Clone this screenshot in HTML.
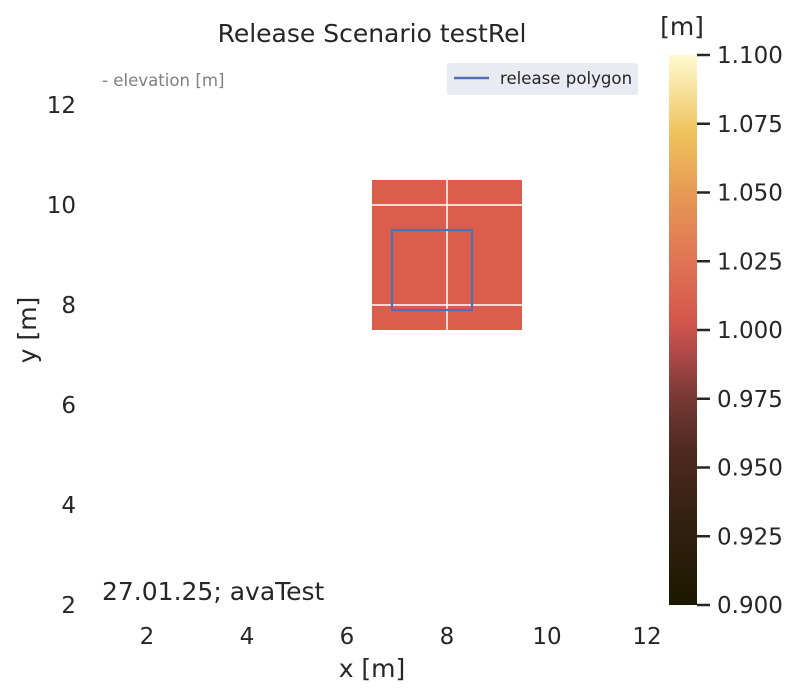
<!DOCTYPE html>
<html><head><meta charset="utf-8"><style>
body{margin:0;background:#fff;}
svg{display:block;font-family:"DejaVu Sans","Liberation Sans",sans-serif;}
</style></head><body>
<svg id="chart" width="797" height="696">
<defs><linearGradient id="cb" x1="0" y1="1" x2="0" y2="0">
<stop offset="0" stop-color="#1c1800"/><stop offset="0.15" stop-color="#33210f"/>
<stop offset="0.28" stop-color="#4f2a1f"/><stop offset="0.38" stop-color="#7a3935"/>
<stop offset="0.46" stop-color="#b14a4a"/><stop offset="0.52" stop-color="#d5574b"/>
<stop offset="0.62" stop-color="#e07255"/><stop offset="0.75" stop-color="#e69a54"/>
<stop offset="0.86" stop-color="#efc35c"/><stop offset="1" stop-color="#fffbd0"/>
</linearGradient></defs>
</svg>
<script>
const xTicks=[2,4,6,8,10,12];
const yTicks=[2,4,6,8,10,12];
const cbTicks=[0.9,0.925,0.95,0.975,1.0,1.025,1.05,1.075,1.1];
const rasterX=[6.5,9.5];
const rasterY=[7.5,10.5];
const gridX=[8];
const gridY=[8,10];
const polyX=[6.9,8.5,8.5,6.9,6.9];
const polyY=[7.9,7.9,9.5,9.5,7.9];
const NS="http://www.w3.org/2000/svg";
const svg=document.getElementById('chart');
const X=v=>97+(v-1)*50, Y=v=>605-(v-2)*50;
const CB=v=>605-(v-0.9)/0.2*550;
function mk(t,a,txt){const e=document.createElementNS(NS,t);for(const k in a)e.setAttribute(k,a[k]);if(txt!==undefined)e.textContent=txt;svg.appendChild(e);return e;}
let e;
e=mk('rect',{x:X(rasterX[0]),y:Y(rasterY[1]),width:X(rasterX[1])-X(rasterX[0]),height:Y(rasterY[0])-Y(rasterY[1]),fill:'#da5e4b'});


gridX.forEach(v=>{e=mk('line',{x1:X(v),x2:X(v),y1:Y(rasterY[1]),y2:Y(rasterY[0]),stroke:'#fff','stroke-width':1.5});

});
gridY.forEach(v=>{e=mk('line',{x1:X(rasterX[0]),x2:X(rasterX[1]),y1:Y(v),y2:Y(v),stroke:'#fff','stroke-width':1.5});

});
e=mk('polyline',{points:polyX.map((v,i)=>X(v)+','+Y(polyY[i])).join(' '),fill:'none',stroke:'#4c72b0','stroke-width':2.2});


xTicks.forEach(v=>{e=mk('text',{x:X(v),y:644,'text-anchor':'middle','font-size':23,fill:'#262626'},v);

});
yTicks.forEach(v=>{e=mk('text',{x:76,y:Y(v)+8,'text-anchor':'end','font-size':23,fill:'#262626'},v);

});
e=mk('text',{x:372,y:677,'text-anchor':'middle','font-size':25,fill:'#262626'},'x [m]');


e=mk('text',{x:0,y:0,'text-anchor':'middle','font-size':25,fill:'#262626',transform:'translate(36,330) rotate(-90)'},'y [m]');


e=mk('text',{x:372,y:42,'text-anchor':'middle','font-size':25,fill:'#262626'},'Release Scenario testRel');


e=mk('text',{x:102,y:86,'font-size':16.6,fill:'#808080'},'- elevation [m]');


e=mk('text',{x:102,y:600,'font-size':25,fill:'#262626'},'27.01.25; avaTest');


e=mk('rect',{x:447,y:63,width:191,height:32,rx:3,fill:'#eaeaf2'});


e=mk('line',{x1:454,x2:489,y1:78,y2:78,stroke:'#4c72b0','stroke-width':2.5});


e=mk('text',{x:500,y:84,'font-size':16.6,fill:'#262626'},'release polygon');


e=mk('rect',{x:669,y:55,width:28,height:550,fill:'url(#cb)'});


cbTicks.forEach(v=>{const y=CB(v);
e=mk('line',{x1:697,x2:710,y1:y,y2:y,stroke:'#262626','stroke-width':2.5});


e=mk('text',{x:717,y:y+8,'font-size':23,fill:'#262626'},v.toFixed(3));

});
e=mk('text',{x:682,y:35,'text-anchor':'middle','font-size':25,fill:'#262626'},'[m]');


</script>
</body></html>
